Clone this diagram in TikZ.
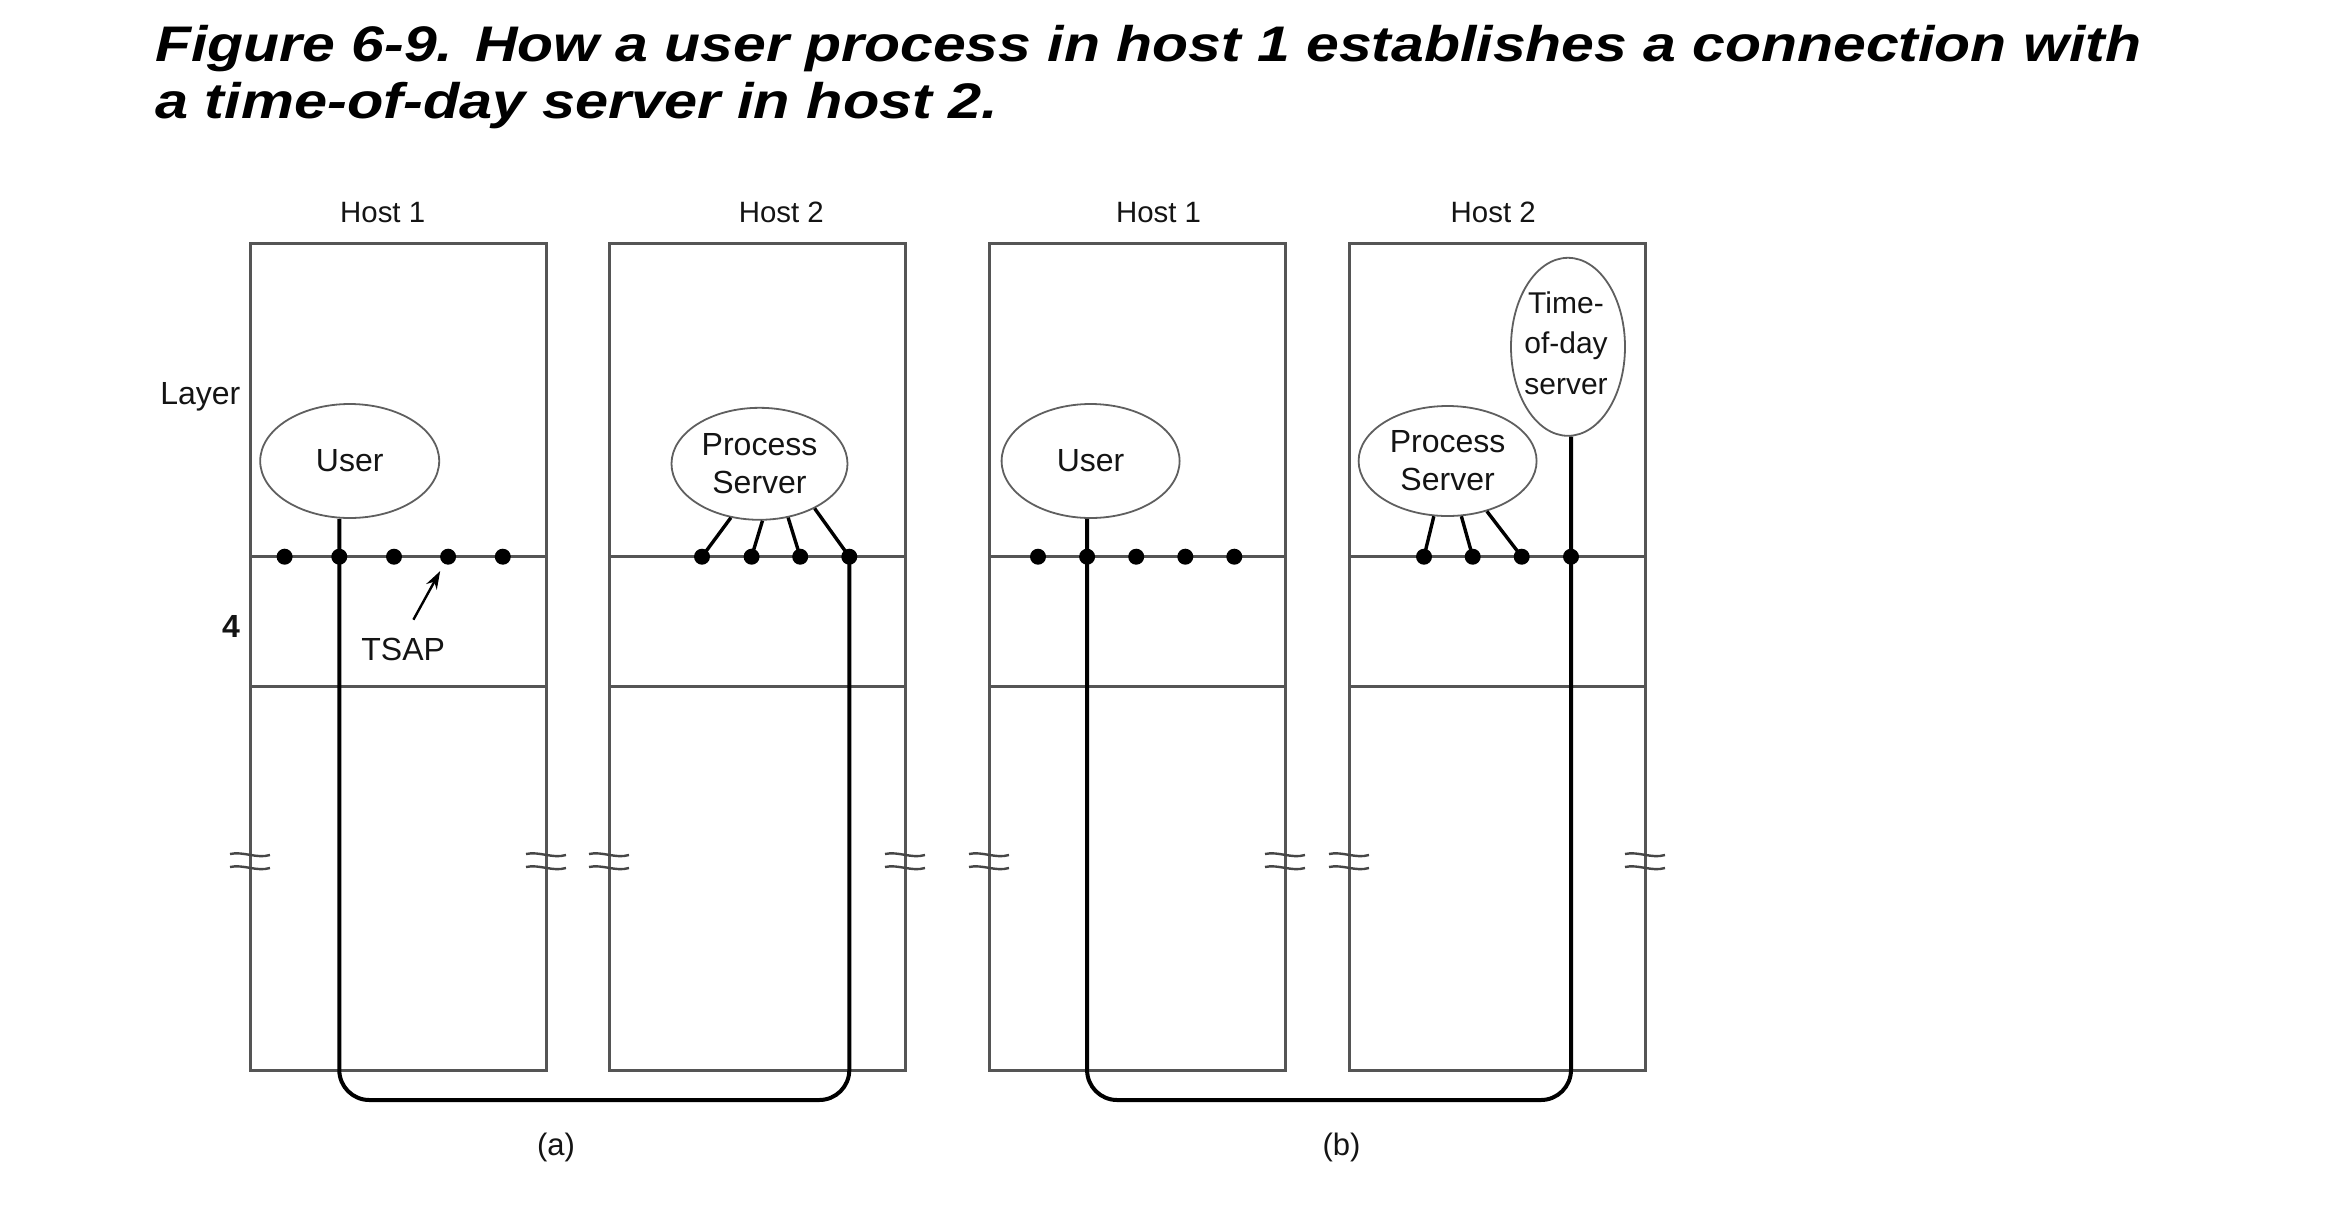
\documentclass[tikz,border=0pt]{standalone}
\usepackage{fontspec}
\setmainfont{Liberation Sans}
\usetikzlibrary{shapes.geometric,arrows.meta}
\definecolor{boxgray}{RGB}{85,85,85}
\definecolor{ellgray}{RGB}{95,95,95}
\definecolor{brkgray}{RGB}{70,70,70}
\definecolor{textc}{RGB}{20,20,20}
\begin{document}
\begin{tikzpicture}[x=0.5pt,y=-0.5pt,
  boxline/.style={draw=boxgray,line width=1.5pt},
  layerline/.style={draw=boxgray,line width=1.6pt},
  ell/.style={ellipse,draw=ellgray,line width=0.9pt,inner sep=0pt,text=textc,
    font=\fontsize{16pt}{19pt}\selectfont,align=center},
  lbl/.style={font=\fontsize{16pt}{19pt}\selectfont,inner sep=0pt,text=textc,anchor=base},
  hostlbl/.style={font=\fontsize{14.7pt}{17pt}\selectfont,inner sep=0pt,text=textc,anchor=base},
  titlelbl/.style={font=\fontsize{25pt}{28.5pt}\selectfont\bfseries\itshape,inner sep=0pt,anchor=base west},
  dot/.style={circle,fill=black,inner sep=0pt,minimum size=8pt},
  conn/.style={draw=black,line width=2pt},
  spoke/.style={draw=black,line width=1.7pt},
  brk/.style={draw=brkgray,line width=1.2pt},
  arrowline/.style={draw=black,line width=1.2pt},
]
\useasboundingbox (0,0) rectangle (2325,1222);

% title
\node[titlelbl] (title1) at (155,61) {\scalebox{1.178}[1]{Figure 6-9. How a user process in host 1 establishes a connection with}};
\node[titlelbl] (title2) at (155,118.3) {\scalebox{1.19}[1]{a time-of-day server in host 2.}};

% boxes and layer lines
\foreach \xa/\xb in {250/546, 609/905, 989/1285, 1349/1645} {
  \draw[boxline] (\xa,243) rectangle (\xb,1070);
  \draw[layerline] (\xa,556.7) -- (\xb,556.7);
  \draw[layerline] (\xa,686.3) -- (\xb,686.3);
}
% break marks
\foreach \ex in {250,546,609,905,989,1285,1349,1645} {
  \draw[brk] (\ex-20,854) .. controls (\ex-7,851) and (\ex+7,859) .. (\ex+20,855);
  \draw[brk] (\ex-20,867) .. controls (\ex-7,864) and (\ex+7,872) .. (\ex+20,868);
}

% labels
\node[hostlbl] (h1a) at (382.7,222) {Host 1};
\node[hostlbl] (h2a) at (781.3,222) {Host 2};
\node[hostlbl] (h1b) at (1158.5,222) {Host 1};
\node[hostlbl] (h2b) at (1493.2,222) {Host 2};
\node[lbl] (layer) at (200.3,404) {Layer};
\node[lbl,font=\fontsize{16pt}{19pt}\selectfont\bfseries] (four) at (231,637) {4};
\node[lbl] (tsap) at (403.2,660) {TSAP};
\node[lbl,font=\fontsize{15.5pt}{19pt}\selectfont] (capa) at (556,1155.5) {(a)};
\node[lbl,font=\fontsize{15.5pt}{19pt}\selectfont] (capb) at (1341.6,1155.5) {(b)};

% ellipses
\node[ell,minimum width=89.5pt,minimum height=57pt] (ua) at (349.7,461) {User};
\node[ell,minimum width=88pt,minimum height=56pt] (psa) at (759.5,463.8) {Process\\Server};
\node[ell,minimum width=89pt,minimum height=57pt] (ub) at (1090.6,461) {User};
\node[ell,minimum width=89pt,minimum height=55pt] (psb) at (1447.6,461) {Process\\Server};
\node[ell,minimum width=57pt,minimum height=89pt] (tod) at (1568,346.8) {};
\node[lbl,anchor=center,align=center,font=\fontsize{15pt}{20.25pt}\selectfont] (todt) at (1566,343) {Time-\\of-day\\server};

% dots
\foreach \x [count=\i] in {284.6,339.3,394,448.1,502.8} {
  \node[dot] (a1d\i) at (\x,556.7) {};
}
\foreach \x [count=\i] in {702,751.6,800.2,849.3} {
  \node[dot] (a2d\i) at (\x,556.7) {};
}
\foreach \x [count=\i] in {1038,1087.1,1136.2,1185.3,1234.3} {
  \node[dot] (b1d\i) at (\x,556.7) {};
}
\foreach \x [count=\i] in {1424,1472.7,1521.7,1571} {
  \node[dot] (b2d\i) at (\x,556.7) {};
}

% spokes from process servers
\draw[spoke] (psa.242) -- (a2d1.center);
\draw[spoke] (psa.273) -- (a2d2.center);
\draw[spoke] (psa.298) -- (a2d3.center);
\draw[spoke] (psa.321) -- (a2d4.center);
\draw[spoke] (psb.256) -- (b2d1.center);
\draw[spoke] (psb.284) -- (b2d2.center);
\draw[spoke] (psb.308) -- (b2d3.center);

% connections
\coordinate (abl) at (339.3,1100);
\coordinate (abr) at (849.3,1100);
\draw[conn,rounded corners=15pt] (ua.south -| a1d2) -- (abl) -- (abr) -- (a2d4.center);
\coordinate (bbl) at (1087.1,1100);
\coordinate (bbr) at (1571,1100);
\draw[conn,rounded corners=15pt] (ub.south -| b1d2) -- (bbl) -- (bbr) -- (tod.south -| b2d4);

% TSAP arrow
\coordinate (tsapfrom) at (413.4,619.7);
\draw[arrowline,-{Stealth[length=9pt,width=6pt]},shorten >=4pt] (tsapfrom) -- (a1d4);
\end{tikzpicture}
\end{document}
